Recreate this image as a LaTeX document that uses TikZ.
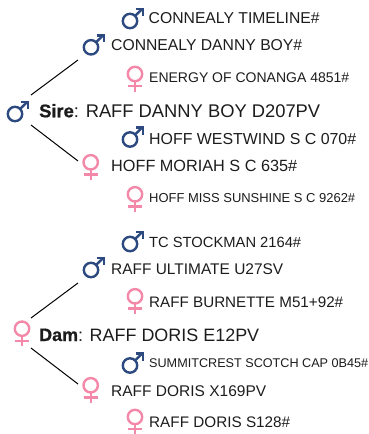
\documentclass[tikz,border=0pt]{standalone}
\usepackage{fontspec}
\setmainfont{Liberation Sans}
\newfontface\heavyface{Liberation Sans Bold}[FakeBold=0.8]
\definecolor{malec}{HTML}{2D4A80}
\definecolor{femalec}{HTML}{F488A9}
\definecolor{txt}{HTML}{1C1C1C}
\newcommand{\fit}[2]{\resizebox{#1pt}{!}{#2}}
\tikzset{
  x=1pt,y=-1pt,
  malesign/.pic={
    \draw[malec,line width=2.4pt] (0,0) circle (7.2);
    \draw[malec,line width=2.4pt] (5,-5) -- (12.5,-12.2);
    \draw[malec,line width=2.4pt] (5.6,-12) -- (12.8,-12) -- (12.8,-5);
  },
  femalesign/.pic={
    \draw[femalec,line width=2.4pt] (0,0) circle (7.2);
    \draw[femalec,line width=2.4pt] (0,7) -- (0,17.5);
    \draw[femalec,line width=2.4pt] (-7,12) -- (7,12);
  },
  lbl/.style={anchor=base west,inner sep=0pt,text=txt,font=\fontsize{14}{16}\selectfont},
  anchorbox/.style={inner sep=0pt,outer sep=0pt,minimum width=#1},
  link/.style={black,line width=1pt},
}
\begin{document}
\begin{tikzpicture}
\useasboundingbox (0,0) rectangle (369,434);
% anchors for connectors
\node[anchorbox=28pt,minimum height=30pt] (sire) at (17,110) {};
\node[anchorbox=28pt,minimum height=26pt] (sireSon) at (92,47) {};
\node[anchorbox=28pt,minimum height=18pt] (sireDau) at (92,170) {};
\node[anchorbox=28pt,minimum height=30pt] (dam) at (17,333) {};
\node[anchorbox=28pt,minimum height=26pt] (damSon) at (92,270) {};
\node[anchorbox=28pt,minimum height=18pt] (damDau) at (92,393) {};
\draw[link] (sire.north east) -- (sireSon.south west);
\draw[link] (sire.south east) -- (sireDau.north west);
\draw[link] (dam.north east) -- (damSon.south west);
\draw[link] (dam.south east) -- (damDau.north west);
% symbols
\pic at (130,21) {malesign};
\pic at (91,47.3) {malesign};
\pic at (135,74) {femalesign};
\pic at (15,114) {malesign};
\pic at (130,139.5) {malesign};
\pic at (90.7,162.3) {femalesign};
\pic at (135,194.3) {femalesign};
\pic at (130,244) {malesign};
\pic at (91,270) {malesign};
\pic at (135,296.3) {femalesign};
\pic at (22,328.7) {femalesign};
\pic at (130,365.5) {malesign};
\pic at (90.7,385.3) {femalesign};
\pic at (135,417) {femalesign};
% labels
\node[lbl] (t1) at (148.5,23.5) {\fit{171}{CONNEALY TIMELINE\#}};
\node[lbl] (t2) at (111,50.5) {\fit{191}{CONNEALY DANNY BOY\#}};
\node[lbl] (t3) at (149,82.7) {\fit{200}{ENERGY OF CONANGA 4851\#}};
\node[lbl] (t4) at (39,117.3) {\fit{281}{{\heavyface Sire}: RAFF DANNY BOY D207PV}};
\node[lbl] (t5) at (149,144.5) {\fit{207}{HOFF WESTWIND S C 070\#}};
\node[lbl] (t6) at (111,171.7) {\fit{186}{HOFF MORIAH S C 635\#}};
\node[lbl] (t7) at (149,202.7) {\fit{206}{HOFF MISS SUNSHINE S C 9262\#}};
\node[lbl] (t8) at (149,247.7) {\fit{152}{TC STOCKMAN 2164\#}};
\node[lbl] (t9) at (111,274.3) {\fit{172}{RAFF ULTIMATE U27SV}};
\node[lbl] (t10) at (149,307) {\fit{194}{RAFF BURNETTE M51+92\#}};
\node[lbl] (t11) at (39,341) {\fit{220}{{\heavyface Dam}: RAFF DORIS E12PV}};
\node[lbl] (t12) at (149,367) {\fit{219}{SUMMITCREST SCOTCH CAP 0B45\#}};
\node[lbl] (t13) at (111,396) {\fit{155}{RAFF DORIS X169PV}};
\node[lbl] (t14) at (149,427.7) {\fit{141}{RAFF DORIS S128\#}};
\end{tikzpicture}
\end{document}
